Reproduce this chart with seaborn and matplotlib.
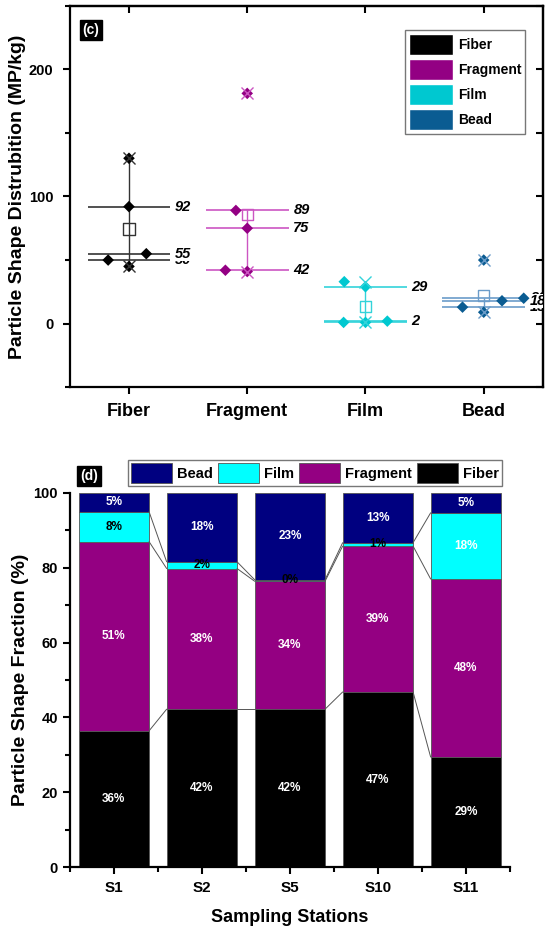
import numpy as np
import pandas as pd
import matplotlib
matplotlib.use("Agg")
import matplotlib.pyplot as plt
from matplotlib.path import Path
from matplotlib.patches import Patch
from matplotlib.ticker import MultipleLocator, FixedLocator
import seaborn as sns

# panel (c): MP/kg at the five stations, one list per shape
shapes = ["Fiber", "Fragment", "Film", "Bead"]
fiber_vals = [130, 92, 55, 50, 45]
fragment_vals = [181, 89, 75, 42, 41]
film_vals = [33, 29, 2, 1, 1]
bead_vals = [50, 20, 18, 13, 9]

# panel (d): shape fraction (%) per station
stations = ["S1", "S2", "S5", "S10", "S11"]
fiber_pct = [36.4, 42.2, 42.2, 46.8, 29.4]
fragment_pct = [50.6, 37.6, 34.2, 39.0, 47.6]
film_pct = [8.0, 1.8, 0.4, 0.9, 17.7]
bead_pct = [5.0, 18.4, 23.2, 13.3, 5.3]
stack_order = ["Bead", "Film", "Fragment", "Fiber"]

marker_colors = {"Fiber": "#000000", "Fragment": "#930083",
                 "Film": "#00C8D0", "Bead": "#0A5C92"}
line_colors = {"Fiber": "#333333", "Fragment": "#CC55C2",
               "Film": "#33D3DA", "Bead": "#6B9CC9"}
bar_colors = {"Bead": "#000080", "Film": "#00FFFF",
              "Fragment": "#940082", "Fiber": "#000000"}

sns.set_theme(style="ticks")
plt.rcParams["font.family"] = ["Liberation Sans", "DejaVu Sans"]
plt.rcParams.update({
    "font.weight": "bold",
    "axes.labelweight": "bold",
    "text.color": "black",
    "axes.labelcolor": "black",
    "axes.edgecolor": "black",
    "xtick.color": "black",
    "ytick.color": "black",
})

fig = plt.figure(figsize=(5.5, 9.31), dpi=100)
ax1 = fig.add_axes([0.127, 0.584, 0.86, 0.41])
ax2 = fig.add_axes([0.127, 0.0687, 0.8, 0.4018])

# ---------- (c) ----------
df_c = pd.DataFrame({
    "shape": np.repeat(shapes, 5),
    "value": fiber_vals + fragment_vals + film_vals + bead_vals,
})

# diamond with a far moveto so the swarm spacing is wider than the glyph
diamond = Path([(1.8, 0), (0, 1), (1, 0), (0, -1), (-1, 0), (0, 1)],
               [Path.MOVETO, Path.MOVETO, Path.LINETO, Path.LINETO,
                Path.LINETO, Path.CLOSEPOLY])
sns.swarmplot(data=df_c, x="shape", y="value", hue="shape",
              palette=marker_colors, marker=diamond, size=15, linewidth=0,
              legend=False, ax=ax1, zorder=3)

for i, (shape, vals) in enumerate(zip(shapes, [fiber_vals, fragment_vals,
                                              film_vals, bead_vals])):
    vals = np.array(vals, dtype=float)
    q1, med, q3 = np.percentile(vals, [25, 50, 75])
    iqr = q3 - q1
    lo = vals[vals >= q1 - 1.5 * iqr].min()
    hi = vals[vals <= q3 + 1.5 * iqr].max()
    lc = line_colors[shape]
    ax1.vlines(i, lo, hi, color=lc, lw=1, zorder=2)
    ax1.hlines([q1, med, q3], i - 0.35, i + 0.35, color=lc, lw=1.2, zorder=2)
    ax1.scatter([i, i], [vals.min(), vals.max()], marker="x", s=75,
                color=lc, lw=1, zorder=4)
    ax1.scatter([i], [vals.mean()], marker="s", s=65, facecolor="none",
                edgecolor=lc, lw=1, zorder=4)
    txt = dict(fontsize=10.5, fontstyle="italic", fontweight="bold",
               va="center", ha="left", clip_on=True)
    ax1.text(i + 0.39, q1, f"{q1:.0f}", **txt)
    ax1.text(i + 0.39, q3, f"{q3:.0f}", **txt)
    ax1.text(i + 0.39, med, f"{med:.0f}",
             bbox=dict(fc="white", ec="none", pad=0), **txt)

ax1.set_xlim(-0.5, 3.5)
ax1.set_ylim(-50, 250)
ax1.yaxis.set_major_locator(MultipleLocator(100))
ax1.yaxis.set_minor_locator(MultipleLocator(50))
ax1.set_xlabel("")
ax1.set_ylabel("Particle Shape Distrubition (MP/kg)", fontsize=14,
               fontweight="bold", labelpad=2)
ax1.tick_params(axis="x", direction="out", length=5, width=1.5,
                labelsize=13, pad=6)
ax1.tick_params(axis="y", which="major", direction="out", length=5,
                width=1.5, labelsize=10.5, pad=7)
ax1.tick_params(axis="y", which="minor", direction="out", length=3.5,
                width=1.5)
for sp in ax1.spines.values():
    sp.set_linewidth(1.6)

top = ax1.secondary_xaxis("top")
top.set_xticks(range(len(shapes)))
top.tick_params(direction="in", length=5, width=1.5, labeltop=False)
right = ax1.secondary_yaxis("right")
right.yaxis.set_major_locator(MultipleLocator(50))
right.tick_params(direction="in", length=5, width=1.5, labelright=False)
for sec in (top, right):
    for sp in sec.spines.values():
        sp.set_linewidth(1.6)

handles = [Patch(facecolor=marker_colors[s], edgecolor="white", label=s)
           for s in shapes]
leg = ax1.legend(handles=handles, loc="upper right",
                 bbox_to_anchor=(0.962, 0.935), frameon=True, fancybox=False,
                 edgecolor="#555555", handlelength=3.2, handleheight=2.0,
                 labelspacing=0.25, handletextpad=0.35, borderpad=0.25,
                 borderaxespad=0, prop={"weight": "bold", "size": 10})
leg.get_frame().set_linewidth(1)

ax1.text(0.027, 0.955, "(c)", transform=ax1.transAxes, color="white",
         fontweight="bold", fontsize=10, va="top", ha="left",
         bbox=dict(boxstyle="square,pad=0.2", fc="black", ec="black"))

# ---------- (d) ----------
pct_by_shape = {"Bead": bead_pct, "Film": film_pct,
                "Fragment": fragment_pct, "Fiber": fiber_pct}
df_d = pd.DataFrame({
    "station": np.tile(stations, len(stack_order)),
    "shape": np.repeat(stack_order, len(stations)),
    "pct": sum((pct_by_shape[s] for s in stack_order), []),
})
sns.histplot(data=df_d, x="station", weights="pct", hue="shape",
             hue_order=stack_order, multiple="stack", discrete=True,
             shrink=0.8, palette=bar_colors, alpha=1, edgecolor="#555555",
             linewidth=0.6, ax=ax2)

layers = [fiber_pct, fragment_pct, film_pct, bead_pct]
names = ["Fiber", "Fragment", "Film", "Bead"]
bottoms = np.zeros(len(stations))
for name, vals in zip(names, layers):
    vals = np.array(vals)
    for j in range(len(stations)):
        c = "black" if (name == "Film" and vals[j] < 10) else "white"
        ax2.text(j, bottoms[j] + vals[j] / 2, f"{vals[j]:.0f}%", color=c,
                 fontsize=8.5, fontweight="bold", ha="center", va="center")
    bottoms += vals

# connecting lines between stacked segment tops
cum = np.cumsum(np.array(layers), axis=0)
for k in range(3):
    for j in range(len(stations) - 1):
        ax2.plot([j + 0.4, j + 0.6], [cum[k, j], cum[k, j + 1]],
                 color="#555555", lw=0.7, zorder=1)

ax2.set_xlim(-0.5, 4.5)
ax2.set_ylim(0, 100)
ax2.yaxis.set_major_locator(MultipleLocator(20))
ax2.yaxis.set_minor_locator(MultipleLocator(10))
ax2.xaxis.set_minor_locator(FixedLocator(np.arange(-0.5, 5, 1)))
ax2.set_xlabel("Sampling Stations", fontsize=13, fontweight="bold",
               labelpad=10)
ax2.set_ylabel("Particle Shape Fraction (%)", fontsize=14,
               fontweight="bold", labelpad=3)
ax2.tick_params(axis="x", which="major", direction="out", length=5,
                width=1.5, labelsize=11, pad=5)
ax2.tick_params(axis="y", which="major", direction="out", length=5,
                width=1.5, labelsize=10.5)
ax2.tick_params(axis="both", which="minor", direction="out", length=3.5,
                width=1.5)
sns.despine(ax=ax2)
for sp in ax2.spines.values():
    sp.set_linewidth(1.6)

sns.move_legend(ax2, "lower right", bbox_to_anchor=(0.982, 1.019), ncol=4,
                title=None, frameon=True, fancybox=False, edgecolor="#555555",
                handlelength=2.8, handleheight=1.7, columnspacing=0.35,
                handletextpad=0.35, borderpad=0.2, borderaxespad=0,
                prop={"weight": "bold", "size": 10.5})
ax2.get_legend().get_frame().set_linewidth(1)

ax2.text(0.023, 1.027, "(d)", transform=ax2.transAxes, color="white",
         fontweight="bold", fontsize=10, va="bottom", ha="left",
         bbox=dict(boxstyle="square,pad=0.2", fc="black", ec="black"))

fig.savefig("out.png", dpi=100)
